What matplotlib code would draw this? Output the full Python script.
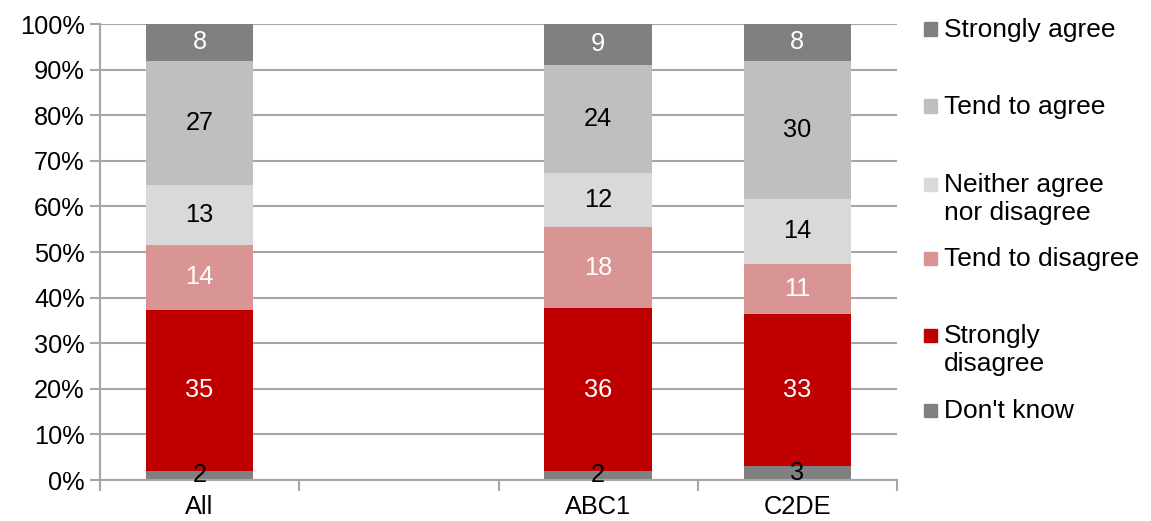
import matplotlib.pyplot as plt
from matplotlib.patches import Rectangle
import numpy as np

plt.rcParams['font.family'] = ['Liberation Sans', 'DejaVu Sans']

# Data
groups = ['All', '', 'ABC1', 'C2DE']
series = ["Don't know", 'Strongly\ndisagree', 'Tend to disagree',
          'Neither agree\nnor disagree', 'Tend to agree', 'Strongly agree']
dont_know = [2, None, 2, 3]
strongly_disagree = [35, None, 36, 33]
tend_disagree = [14, None, 18, 11]
neither = [13, None, 12, 14]
tend_agree = [27, None, 24, 30]
strongly_agree = [8, None, 9, 8]

colors = ['#808080', '#c00000', '#d99594', '#d9d9d9', '#bfbfbf', '#808080']
label_colors = ['black', 'white', 'white', 'black', 'black', 'white']

values = [dont_know, strongly_disagree, tend_disagree, neither, tend_agree, strongly_agree]

FS = 18.3

fig = plt.figure(figsize=(11.51, 5.21), dpi=100)
W, H = 1151, 521
ax = fig.add_axes([100 / W, (H - 480) / H, (897 - 100) / W, (480 - 24) / H])

x = np.arange(len(groups))
grid_col = '#a6a6a6'

for i, g in enumerate(groups):
    col = [v[i] for v in values]
    if col[0] is None:
        continue
    total = sum(col)
    bottom = 0
    for j, v in enumerate(col):
        h = v / total
        ax.bar(i, h, bottom=bottom, width=0.54, color=colors[j], zorder=2)
        ax.text(i, bottom + h / 2, str(v), ha='center', va='center',
                fontsize=FS, color=label_colors[j], zorder=3)
        bottom += h

ax.set_xlim(-0.5, len(groups) - 0.5)
ax.set_ylim(0, 1)
ticks = np.arange(0, 1.01, 0.1)
ax.set_yticks(ticks)
ax.set_yticklabels([f'{int(round(t * 100))}%' for t in ticks], fontsize=FS)
ax.set_xticks(x)
ax.set_xticklabels(groups, fontsize=FS)
ax.set_xticks(np.arange(-0.5, len(groups), 1), minor=True)
ax.tick_params(axis='x', which='major', length=0, pad=11)
ax.tick_params(axis='x', which='minor', length=8, color=grid_col, width=1.5)
ax.tick_params(axis='y', length=7, color=grid_col, width=1.5, pad=4)

ax.yaxis.grid(True, color=grid_col, linewidth=1.5, zorder=0)
ax.set_axisbelow(True)
for s in ['top', 'right']:
    ax.spines[s].set_visible(False)
for s in ['left', 'bottom']:
    ax.spines[s].set_color(grid_col)
    ax.spines[s].set_linewidth(1.5)

# Legend, drawn by hand to match the original layout
legend_items = list(zip(series, colors))[::-1]
baselines = [37, 114, 192, 266, 343, 418]
for (name, c), yb in zip(legend_items, baselines):
    ym = yb - 8
    fig.patches.append(Rectangle((924 / W, (H - ym - 6.5) / H), 13 / W, 13 / H,
                                 transform=fig.transFigure, color=c, figure=fig))
    for k, line in enumerate(name.split('\n')):
        fig.text(944 / W, (H - yb - 28 * k) / H, line, fontsize=19,
                 va='baseline', ha='left')

fig.savefig('out.png', dpi=100)
